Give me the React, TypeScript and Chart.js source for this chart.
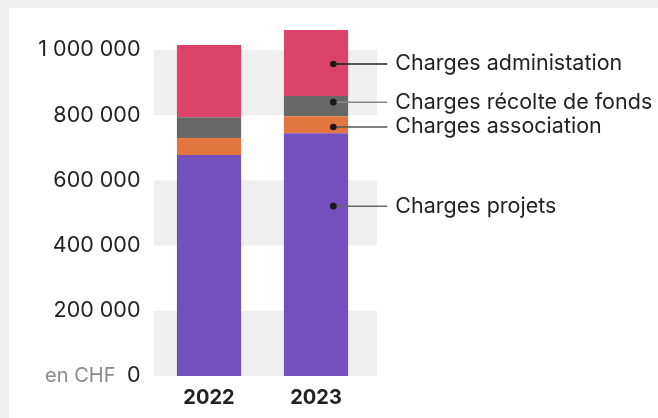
import React, { useEffect, useRef } from "react";
import { Chart, registerables } from "chart.js";

Chart.register(...registerables);

const years = ["2022", "2023"];
const projets = [678000, 745000];
const association = [52000, 52000];
const recolte = [64000, 62000];
const administration = [221000, 202000];

const seriesLabels = [
  "Charges projets",
  "Charges association",
  "Charges récolte de fonds",
  "Charges administation",
];
const seriesColors = ["#7450bf", "#e3763e", "#676767", "#db4369"];
const leaderColors = ["#666666", "#555555", "#888888", "#222222"];
// value on the y axis where each leader dot sits (on the 2023 bar)
const labelAnchorValues = [521000, 764000, 840000, 957000];

const yTickValues = [0, 200000, 400000, 600000, 800000, 1000000];
const bandRanges: [number, number][] = [
  [0, 200000],
  [400000, 600000],
  [800000, 1000000],
];
const unitLabel = "en CHF";

const FONT = "Inter, 'Noto Sans', sans-serif";

const fmt = (v: number) =>
  Math.round(v)
    .toString()
    .replace(/\B(?=(\d{3})+(?!\d))/g, " ");

export default function App() {
  const ref = useRef<HTMLCanvasElement>(null);

  useEffect(() => {
    if (!ref.current) return;

    const bandsPlugin = {
      id: "bands",
      beforeDatasetsDraw(chart: any) {
        const { ctx, chartArea, scales } = chart;
        const y = scales.y;
        ctx.save();
        ctx.fillStyle = "#efefef";
        for (const [a, b] of bandRanges) {
          const y1 = y.getPixelForValue(b);
          const y2 = y.getPixelForValue(a);
          ctx.fillRect(chartArea.left - 1.5, y1, chartArea.right - chartArea.left + 9, y2 - y1);
        }
        ctx.restore();
      },
    };

    const leaderPlugin = {
      id: "leaders",
      afterDatasetsDraw(chart: any) {
        const { ctx, scales } = chart;
        const x = scales.x;
        const y = scales.y;
        const meta = chart.getDatasetMeta(0);
        const bar = meta.data[1];
        const barW = bar.width;
        const dotX = x.getPixelForValue(1) + barW * 0.27;
        const lineEnd = dotX + 54;
        ctx.save();
        seriesLabels.forEach((label, i) => {
          const py = y.getPixelForValue(labelAnchorValues[i]);
          ctx.strokeStyle = leaderColors[i];
          ctx.lineWidth = 1.5;
          ctx.beginPath();
          ctx.moveTo(dotX, py);
          ctx.lineTo(lineEnd, py);
          ctx.stroke();
          ctx.fillStyle = "#1a1a1a";
          ctx.beginPath();
          ctx.arc(dotX, py, 3.3, 0, Math.PI * 2);
          ctx.fill();
          ctx.fillStyle = "#222222";
          ctx.font = `21.5px ${FONT}`;
          ctx.textAlign = "left";
          ctx.textBaseline = "middle";
          ctx.fillText(label, lineEnd + 8, py);
        });
        ctx.restore();
      },
      afterDraw(chart: any) {
        const { ctx, scales } = chart;
        const y = scales.y;
        ctx.save();
        ctx.fillStyle = "#8a8a8a";
        ctx.font = `20px ${FONT}`;
        ctx.textAlign = "right";
        ctx.textBaseline = "middle";
        ctx.fillText(unitLabel, y.right - 40, y.getPixelForValue(0));
        ctx.restore();
      },
    };

    const chart = new Chart(ref.current, {
      type: "bar",
      data: {
        labels: years,
        datasets: [
          { label: seriesLabels[0], data: projets, backgroundColor: seriesColors[0] },
          { label: seriesLabels[1], data: association, backgroundColor: seriesColors[1] },
          { label: seriesLabels[2], data: recolte, backgroundColor: seriesColors[2] },
          { label: seriesLabels[3], data: administration, backgroundColor: seriesColors[3] },
        ],
      },
      options: {
        responsive: false,
        animation: false,
        layout: { padding: { top: 17.4, right: 288.5, bottom: 0, left: 0 } },
        datasets: {
          bar: { categoryPercentage: 1, barPercentage: 0.6, borderWidth: 0 },
        },
        plugins: {
          legend: { display: false },
          tooltip: { enabled: false },
        },
        scales: {
          x: {
            stacked: true,
            grid: { display: false, drawTicks: false },
            border: { display: false },
            ticks: {
              color: "#222222",
              font: { family: FONT, size: 20, weight: "bold" },
              padding: 10,
            },
            afterFit(scale: any) {
              scale.height = 42;
              scale.paddingLeft = 0;
              scale.paddingRight = 0;
              scale.paddingTop = 0;
              scale.paddingBottom = 0;
            },
          },
          y: {
            stacked: true,
            min: 0,
            max: 1100000,
            grid: { display: false, drawTicks: false },
            border: { display: false },
            afterBuildTicks(scale: any) {
              scale.ticks = yTickValues.map((v) => ({ value: v }));
            },
            ticks: {
              color: "#222222",
              font: { family: FONT, size: 21.5 },
              padding: 15,
              callback: (v: any) => fmt(Number(v)),
            },
            afterFit(scale: any) {
              scale.width = 155.5;
              scale.paddingTop = 0;
              scale.paddingBottom = 0;
              scale.paddingLeft = 0;
              scale.paddingRight = 0;
            },
          },
        },
      },
      plugins: [bandsPlugin, leaderPlugin],
    } as any);

    return () => chart.destroy();
  }, []);

  return (
    <div style={{ position: "fixed", left: 0, top: 0, width: 658, height: 418, background: "#f0f0f0" }}>
      <div style={{ position: "absolute", left: 9, top: 8, right: 0, bottom: 0, background: "#ffffff" }} />
      <canvas
        ref={ref}
        width={658}
        height={418}
        style={{ position: "absolute", left: 0, top: 0, width: 658, height: 418 }}
      />
    </div>
  );
}
